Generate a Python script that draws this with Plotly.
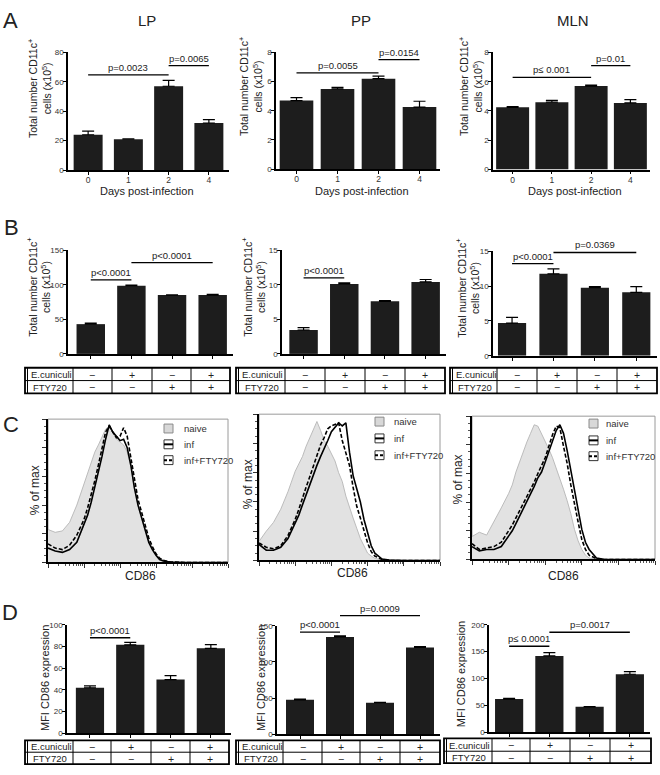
import plotly.graph_objects as go

W, H = 660, 775
FONT = "Liberation Sans, Arial, sans-serif"
BAR = "#1d1d1d"

# ---------------- data ----------------
positions = [0, 1, 2, 3]
day_labels = ["0", "1", "2", "4"]

# Panel A: total CD11c+ cells (x10^5), days post-infection
A_LP_mean = [24, 21, 57, 32]
A_LP_err = [2.5, 0.3, 4.0, 2.3]
A_PP_mean = [4.7, 5.5, 6.2, 4.25]
A_PP_err = [0.2, 0.1, 0.18, 0.4]
A_MLN_mean = [4.25, 4.6, 5.7, 4.55]
A_MLN_err = [0.05, 0.12, 0.07, 0.22]

# Panel B: total CD11c+ cells (x10^5), treatment groups
ecuniculi = ["\u2212", "+", "\u2212", "+"]
fty720 = ["\u2212", "\u2212", "+", "+"]
B_LP_mean = [43, 98.6, 85, 85]
B_LP_err = [1.5, 0.8, 0.5, 1.0]
B_PP_mean = [3.45, 10.1, 7.6, 10.4]
B_PP_err = [0.35, 0.15, 0.1, 0.35]
B_MLN_mean = [4.7, 11.75, 9.75, 9.1]
B_MLN_err = [0.8, 0.7, 0.15, 0.8]

# Panel D: MFI CD86 expression
D_LP_mean = [42, 81.5, 49.5, 78.3]
D_LP_err = [1.8, 2.2, 3.6, 3.3]
D_PP_mean = [47.8, 134.5, 43.8, 120]
D_PP_err = [0.8, 1.5, 0.5, 1.3]
D_MLN_mean = [62, 142, 47.5, 108]
D_MLN_err = [1.5, 6, 0.5, 5]

# significance brackets: (from group, to group, height in data units, label)
A_LP_sig = [(0, 2, 64.7, "p=0.0023"), (2, 3, 71, "p=0.0065")]
A_PP_sig = [(0, 2, 6.6, "p=0.0055"), (2, 3, 7.5, "p=0.0154")]
A_MLN_sig = [(0, 2, 6.3, "p\u2264 0.001"), (2, 3, 7.1, "p=0.01")]
B_LP_sig = [(0, 1, 107, "p<0.0001"), (1, 3, 132, "p<0.0001")]
B_PP_sig = [(0, 1, 11, "p<0.0001")]
B_MLN_sig = [(0, 1, 13.2, "p<0.0001"), (1, 3, 14.8, "p=0.0369")]
D_LP_sig = [(0, 1, 88, "p<0.0001")]
D_PP_sig = [(0, 1, 141, "p<0.0001"), (1, 3, 164, "p=0.0009")]
D_MLN_sig = [(0, 1, 160, "p\u2264 0.0001"), (1, 3, 186, "p=0.0017")]

# Panel C: CD86 histograms (% of max) on log10 CD86 grid
cd86_log10 = [0.0, 0.2, 0.4, 0.6, 0.8, 1.0, 1.1, 1.2, 1.3, 1.4, 1.5, 1.6, 1.7, 1.8, 1.9,
              2.0, 2.1, 2.2, 2.3, 2.4, 2.5, 2.6, 2.7, 2.8, 2.9, 3.0, 3.1, 3.2, 3.4, 3.6,
              3.8, 4.0, 4.5, 5.0]
C_LP_naive = [23, 21, 22, 28, 40, 55, 63, 71, 77, 82, 87, 93, 95, 91, 86, 84, 82, 77, 67, 52,
              40, 31, 22, 16, 9, 5, 3, 1.5, 0.3, 0, 0, 0, 0, 0]
C_LP_inf = [10, 8, 7, 9, 14, 26, 33, 42, 52, 63, 74, 86, 96, 91, 88, 85, 86, 80, 68, 52,
            40, 31, 22, 14, 9, 5, 2, 1, 0.3, 0, 0, 0, 0, 0]
C_LP_fty = [13, 10, 9, 12, 19, 30, 38, 47, 57, 68, 80, 91, 95, 91, 87, 88, 94, 88, 74, 58,
            44, 35, 26, 17, 11, 6, 3, 1.5, 0.3, 0, 0, 0, 0, 0]
C_PP_naive = [13, 20, 26, 35, 47, 61, 66, 71, 78, 84, 89, 95, 89, 82, 78, 73, 68, 60, 54, 44,
              36, 29, 22, 15, 10, 5, 3, 1.5, 0.3, 0, 0, 0, 0, 0]
C_PP_inf = [11, 7, 7, 9, 15, 25, 31, 38, 45, 52, 59, 65, 71, 76, 82, 88, 91, 94, 92, 94,
            74, 58, 49, 40, 28, 18, 10, 5, 1, 0.3, 0, 0, 0, 0]
C_PP_fty = [12, 9, 8, 10, 17, 28, 35, 43, 50, 57, 64, 71, 79, 84, 90, 92, 93, 94, 82, 73,
            65, 50, 37, 29, 21, 12, 6, 3, 0.7, 0, 0, 0, 0, 0]
C_MLN_naive = [16, 19, 17, 26, 36, 46, 52, 61, 68, 76, 82, 88, 94, 93, 88, 83, 77, 71, 64, 56,
               49, 41, 32, 21, 13, 7, 3, 1, 0.2, 0, 0, 0, 0, 0]
C_MLN_inf = [9, 6, 7, 7, 9, 16, 20, 25, 30, 35, 40, 45, 51, 57, 61, 68, 75, 83, 90, 94,
             88, 76, 62, 48, 35, 21, 12, 7, 1, 0.2, 0, 0, 0, 0]
C_MLN_fty = [11, 7, 8, 9, 12, 20, 24, 29, 34, 39, 43, 48, 54, 60, 65, 71, 79, 87, 93, 92,
             79, 67, 52, 38, 26, 14, 7, 3, 0.5, 0, 0, 0, 0, 0]

legend_names = ["naive", "inf", "inf+FTY720"]

# ---------------- helpers ----------------
def px_x(a, b):
    return [a / W, b / W]

def px_y(top, bottom):
    return [1 - bottom / H, 1 - top / H]

def PX(x):
    return x / W

def PY(y):
    return 1 - y / H

fig = go.Figure()
layout = dict(width=W, height=H, margin=dict(l=0, r=0, t=0, b=0),
              paper_bgcolor="white", plot_bgcolor="white", showlegend=False,
              font=dict(family=FONT, color="#222"))
shapes = []
annotations = []

def names(k):
    s = "" if k == 1 else str(k)
    return "xaxis" + s, "yaxis" + s, "x" + s, "y" + s

def text(x, y, t, size, angle=0, xanchor="center", yanchor="middle", color="#222"):
    annotations.append(dict(x=PX(x), y=PY(y), xref="paper", yref="paper", text=t,
                            showarrow=False, textangle=angle, xanchor=xanchor,
                            yanchor=yanchor, font=dict(size=size, family=FONT, color=color)))

def bar_panel(k, mean, err, sig, xdom, xrng, ydom, yrng, dtick, bw, ticklabels):
    xa, ya, xr, yr = names(k)
    fig.add_trace(go.Bar(x=positions, y=mean, width=bw, xaxis=xr, yaxis=yr,
                         marker=dict(color=BAR, line=dict(width=0)),
                         error_y=dict(type="data", array=err, arrayminus=[0] * len(err),
                                      symmetric=False, color="black", thickness=1.2, width=6)))
    xcfg = dict(domain=px_x(*xdom), range=list(xrng), anchor=yr, showgrid=False,
                zeroline=False, showline=True, linecolor="black", linewidth=1.5,
                ticks="outside", ticklen=3, tickwidth=1.2, tickcolor="black",
                ticklabelstandoff=-2,
                tickfont=dict(size=8.5, family=FONT, color="#333"))
    if ticklabels:
        xcfg["tickvals"] = positions
        xcfg["ticktext"] = ticklabels
    else:
        xcfg["tickmode"] = "linear"
        xcfg["tick0"] = 0
        xcfg["dtick"] = 1
        xcfg["showticklabels"] = False
    layout[xa] = xcfg
    layout[ya] = dict(domain=px_y(*ydom), range=list(yrng), anchor=xr, showgrid=False,
                      zeroline=False, showline=True, linecolor="black", linewidth=1.5,
                      ticks="outside", ticklen=3, tickwidth=1.2, tickcolor="black",
                      dtick=dtick, tick0=0, ticklabelstandoff=-2,
                      tickfont=dict(size=8, family=FONT, color="#333"))
    ymax = yrng[1]
    for i0, i1, h, lab in sig:
        shapes.append(dict(type="line", xref=xr, yref=yr + " domain", x0=i0, x1=i1,
                           y0=h / ymax, y1=h / ymax, line=dict(color="black", width=1.3)))
        annotations.append(dict(x=(i0 + i1) / 2, y=h / ymax, xref=xr, yref=yr + " domain",
                                text=lab, showarrow=False, yanchor="bottom", yshift=0,
                                font=dict(size=9.5, family=FONT, color="#222")))

def table(cols, rows):
    x0, x1 = PX(cols[0]), PX(cols[-1])
    y0, y1 = PY(rows[0]), PY(rows[-1])
    shapes.append(dict(type="rect", xref="paper", yref="paper", x0=x0, x1=x1, y0=y1, y1=y0,
                       line=dict(color="black", width=1.8), fillcolor="rgba(0,0,0,0)"))
    shapes.append(dict(type="line", xref="paper", yref="paper", x0=PX(cols[0] + 2.5),
                       x1=PX(cols[0] + 2.5), y0=y1, y1=y0, line=dict(color="black", width=1)))
    for c in cols[1:-1]:
        shapes.append(dict(type="line", xref="paper", yref="paper", x0=PX(c), x1=PX(c),
                           y0=y1, y1=y0, line=dict(color="black", width=1)))
    shapes.append(dict(type="line", xref="paper", yref="paper", x0=x0, x1=x1,
                       y0=PY(rows[1]), y1=PY(rows[1]), line=dict(color="black", width=1)))
    ymid1 = (rows[0] + rows[1]) / 2
    ymid2 = (rows[1] + rows[2]) / 2
    text(cols[0] + 3.5, ymid1 + 0.5, "E.cuniculi", 9.5, xanchor="left")
    text((cols[0] + cols[1]) / 2 + 1, ymid2 + 0.5, "FTY720", 9.5)
    for j in range(4):
        cx = (cols[j + 1] + cols[j + 2]) / 2
        text(cx, ymid1 + 0.5, ecuniculi[j], 10.5)
        text(cx, ymid2 + 0.5, fty720[j], 10.5)

def hist_panel(k, naive, inf, fty, xdom, ydom, leg_box_x, leg_tops, leg_text_x):
    xa, ya, xr, yr = names(k)
    xs = [10 ** g for g in cd86_log10]
    fig.add_trace(go.Scatter(x=xs, y=naive, mode="lines", fill="tozeroy",
                             fillcolor="#e2e2e2", line=dict(color="#b5b5b5", width=0.9),
                             xaxis=xr, yaxis=yr, name=legend_names[0]))
    fig.add_trace(go.Scatter(x=xs, y=inf, mode="lines", line=dict(color="black", width=1.6),
                             xaxis=xr, yaxis=yr, name=legend_names[1]))
    fig.add_trace(go.Scatter(x=xs, y=fty, mode="lines",
                             line=dict(color="black", width=1.6, dash="4px,2px"),
                             xaxis=xr, yaxis=yr, name=legend_names[2]))
    layout[xa] = dict(domain=px_x(*xdom), type="log", range=[0, 5], anchor=yr,
                      showgrid=False, zeroline=False, showline=True, linecolor="black",
                      linewidth=1.5, ticks="outside", ticklen=4, tickwidth=1,
                      tickcolor="#333", dtick=1, showticklabels=False,
                      minor=dict(ticks="outside", ticklen=2, tickcolor="#555", dtick="D1",
                                 showgrid=False))
    layout[ya] = dict(domain=px_y(*ydom), range=[0, 100], anchor=xr, showgrid=False,
                      zeroline=False, showline=True, linecolor="black", linewidth=2.2,
                      ticks="outside", ticklen=4, tickwidth=1, tickcolor="#333", dtick=20,
                      showticklabels=False,
                      minor=dict(ticks="outside", ticklen=2, tickcolor="#555", dtick=5,
                                 showgrid=False))
    shapes.append(dict(type="rect", xref=xr + " domain", yref=yr + " domain", x0=0, x1=1,
                       y0=0, y1=1, line=dict(color="#9a9a9a", width=1),
                       fillcolor="rgba(0,0,0,0)", layer="below"))
    # legend symbols
    bx0, bx1 = PX(leg_box_x), PX(leg_box_x + 9)
    for i, top in enumerate(leg_tops):
        yt, yb = PY(top), PY(top + 9)
        ym = PY(top + 4.5)
        if i == 0:
            shapes.append(dict(type="rect", xref="paper", yref="paper", x0=bx0, x1=bx1,
                               y0=yb, y1=yt, fillcolor="#d8d8d8",
                               line=dict(color="#8a8a8a", width=1)))
        else:
            shapes.append(dict(type="rect", xref="paper", yref="paper", x0=bx0, x1=bx1,
                               y0=yb, y1=yt, fillcolor="white",
                               line=dict(color="#333", width=1)))
            shapes.append(dict(type="line", xref="paper", yref="paper", x0=bx0, x1=bx1,
                               y0=ym, y1=ym,
                               line=dict(color="black", width=2,
                                         dash="solid" if i == 1 else "3px,2px")))
        text(leg_text_x, top + 4.5, legend_names[i], 9.5, xanchor="left", color="#333")

# ---------------- Panel A ----------------
bar_panel(1, A_LP_mean, A_LP_err, A_LP_sig, (68, 229), (-0.5, 3.5), (49, 168), (0, 80), 20, 0.72, day_labels)
bar_panel(2, A_PP_mean, A_PP_err, A_PP_sig, (276, 440), (-0.5, 3.5), (49, 167), (0, 8), 2, 0.82, day_labels)
bar_panel(3, A_MLN_mean, A_MLN_err, A_MLN_sig, (493, 650), (-0.5, 3.5), (49, 167.5), (0, 8), 2, 0.84, day_labels)

# ---------------- Panel B ----------------
bar_panel(4, B_LP_mean, B_LP_err, B_LP_sig, (68, 233), (-0.56, 3.5), (249, 354), (0, 150), 50, 0.7, None)
bar_panel(5, B_PP_mean, B_PP_err, B_PP_sig, (282, 446), (-0.53, 3.5), (249, 354), (0, 15), 5, 0.7, None)
bar_panel(6, B_MLN_mean, B_MLN_err, B_MLN_sig, (493, 657), (-0.46, 3.5), (250, 356), (0, 15), 5, 0.68, None)

# ---------------- Panel C ----------------
hist_panel(7, C_LP_naive, C_LP_inf, C_LP_fty, (48, 228), (420, 565), 164, [425, 441, 457], 182)
hist_panel(8, C_PP_naive, C_PP_inf, C_PP_fty, (259, 440), (415, 563), 375, [418, 435, 452], 392)
hist_panel(9, C_MLN_naive, C_MLN_inf, C_MLN_fty, (472, 655), (417, 562), 589, [420, 437, 453], 604)

# ---------------- Panel D ----------------
bar_panel(10, D_LP_mean, D_LP_err, D_LP_sig, (67, 231), (-0.57, 3.5), (628, 738), (0, 100), 20, 0.7, None)
bar_panel(11, D_PP_mean, D_PP_err, D_PP_sig, (277, 440), (-0.575, 3.5), (629, 739), (0, 150), 50, 0.7, None)
bar_panel(12, D_MLN_mean, D_MLN_err, D_MLN_sig, (489, 650), (-0.5, 3.5), (628, 737), (0, 200), 50, 0.7, None)

# ---------------- tables ----------------
table([25, 73, 112, 152, 191, 230], [368, 381, 394])
table([236, 285, 325, 365, 405, 445], [368, 381, 394])
table([450, 497, 537, 577, 617, 657], [368, 381, 394])
table([25, 73, 111, 151, 190, 229], [745, 757, 769])
table([236, 283, 322, 360, 400, 440], [745, 757, 769])
table([444, 492, 530, 570, 610, 651], [743, 756, 768])

# ---------------- texts ----------------
for lx, ly, lt in [(10, 17, "A"), (11, 226, "B"), (11, 425, "C"), (10, 616, "D")]:
    text(lx, ly, lt, 22)
for tx, tt in [(147, "LP"), (361, "PP"), (573, "MLN")]:
    text(tx, 17, tt, 15)

ytitle = "Total number CD11c<sup>+</sup><br>cells (x10<sup>5</sup>)"
for tx, ty in [(39, 86), (250, 84), (470, 84), (39, 287), (254, 287), (468, 288)]:
    text(tx, ty, ytitle, 10.5, angle=-90)
for tx in [147, 362, 575]:
    text(tx, 189, "Days post-infection", 11)
for tx, ty in [(35, 492), (248, 486), (458, 481)]:
    text(tx, ty, "% of max", 12, angle=-90)
for tx, ty in [(140, 579), (352, 576), (563, 579)]:
    text(tx, ty, "CD86", 12)
for tx, ty in [(45, 682), (261, 682), (461, 678)]:
    text(tx, ty, "MFI CD86 expression", 11, angle=-90)

layout["shapes"] = shapes
layout["annotations"] = annotations
fig.update_layout(**layout)
fig.write_html("out.html", config={"displayModeBar": False},
               post_script="document.body.style.margin='0px';document.body.style.overflow='hidden';")
